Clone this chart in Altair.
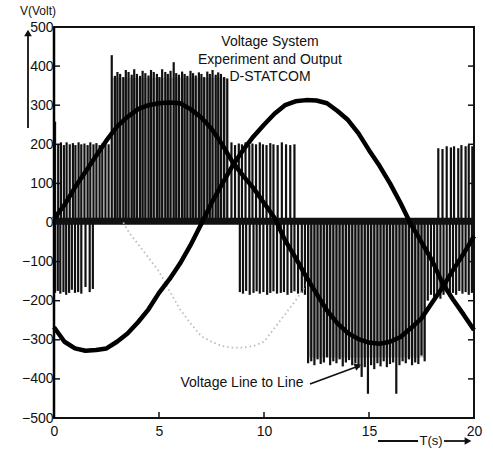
import altair as alt
import pandas as pd

FONT = "Liberation Sans"

T = [0, 0.5, 1, 1.5, 2, 2.5, 3, 3.5, 4, 4.5, 5, 5.5, 6, 6.5, 7, 7.5, 8, 8.5, 9, 9.5,
     10, 10.5, 11, 11.5, 12, 12.5, 13, 13.5, 14, 14.5, 15, 15.5, 16, 16.5, 17, 17.5,
     18, 18.5, 19, 19.5, 20]
curve_a = [10, 45, 90, 130, 170, 210, 245, 270, 290, 300, 305, 307, 305, 290, 269, 240,
           200, 155, 120, 88, 50, 12, -45, -90, -138, -182, -225, -258, -283, -298, -307,
           -310, -305, -293, -270, -245, -205, -166, -122, -80, -35]
curve_b = [-268, -305, -322, -328, -326, -322, -305, -284, -255, -222, -180, -145, -105,
           -58, -5, 50, 98, 145, 185, 220, 250, 278, 300, 310, 313, 312, 305, 285, 262,
           228, 185, 145, 100, 50, -5, -50, -97, -155, -197, -235, -275]
gray_t = [3.3, 3.6, 4.0, 4.5, 5.0, 5.5, 6.0, 6.5, 7.0, 7.5, 8.0, 8.5, 9.0, 9.5, 10.0,
          10.5, 11.0, 11.5, 12.0]
gray_v = [0, -28, -55, -90, -125, -175, -222, -258, -290, -305, -316, -320, -320, -316,
          -305, -270, -235, -200, -160]

# ---- PWM pulses (time, peak) ----
p1_t = [0.05, 0.2, 0.33, 0.47, 0.6, 0.75, 0.9, 1.02, 1.17, 1.3, 1.45, 1.6, 1.73, 1.88,
        2.02, 2.17, 2.3, 2.45, 2.6]
p1_v = [258, 200, 205, 198, 205, 200, 203, 198, 205, 200, 202, 198, 205, 200, 203, 198,
        202, 205, 200]
p2_t = [2.75, 2.9, 3.02, 3.15, 3.3, 3.42, 3.55, 3.7, 3.82, 3.95, 4.1, 4.22, 4.35, 4.5,
        4.62, 4.75, 4.9, 5.02, 5.15, 5.3, 5.42, 5.55, 5.7, 5.82, 5.95, 6.1, 6.22, 6.35,
        6.5, 6.62, 6.75, 6.9, 7.02, 7.15, 7.3, 7.42, 7.55, 7.7, 7.82, 7.95, 8.1, 8.25]
p2_v = [428, 375, 385, 380, 372, 390, 385, 378, 392, 380, 375, 388, 382, 376, 390, 385,
        380, 372, 392, 385, 380, 388, 410, 382, 378, 386, 380, 375, 388, 382, 376, 384,
        380, 372, 386, 380, 390, 378, 384, 380, 372, 368]
p3_t = [8.45, 8.62, 8.8, 8.95, 9.12, 9.3, 9.45, 9.62, 9.8, 9.95, 10.12, 10.3, 10.45,
        10.65, 10.85, 11.05, 11.25, 11.45]
p3_v = [205, 198, 202, 200, 205, 198, 202, 200, 205, 200, 198, 203, 200, 198, 205, 200,
        198, 200]
p4_t = [18.3, 18.5, 18.7, 18.9, 19.05, 19.25, 19.4, 19.6, 19.75, 19.92]
p4_v = [190, 188, 195, 192, 195, 190, 198, 195, 198, 195]
n1_t = [0.05, 0.18, 0.3, 0.45, 0.58, 0.72, 0.85, 1.0, 1.15, 1.3, 1.5, 1.7, 1.85]
n1_v = [-180, -175, -182, -178, -185, -180, -172, -180, -178, -182, -165, -178, -170]
n2_t = [8.85, 9.0, 9.15, 9.32, 9.5, 9.65, 9.8, 9.97, 10.15, 10.3, 10.45, 10.62, 10.8,
        10.95, 11.12, 11.3, 11.45, 11.62, 11.8, 11.95]
n2_v = [-178, -182, -175, -185, -180, -176, -182, -178, -185, -180, -176, -182, -180,
        -178, -185, -180, -176, -182, -180, -185]
n3_t = [12.1, 12.25, 12.4, 12.55, 12.7, 12.85, 13.0, 13.15, 13.3, 13.45, 13.6, 13.75,
        13.9, 14.05, 14.2, 14.35, 14.5, 14.65, 14.8, 14.95, 15.1, 15.25, 15.4, 15.55,
        15.7, 15.85, 16.0, 16.15, 16.3, 16.45, 16.6, 16.75, 16.9, 17.05, 17.2, 17.35,
        17.5, 17.65]
n3_v = [-360, -355, -365, -350, -362, -358, -345, -365, -355, -360, -350, -368, -358,
        -352, -365, -360, -372, -395, -370, -438, -365, -375, -360, -368, -355, -370,
        -362, -358, -438, -365, -355, -360, -350, -365, -358, -362, -340, -355]
n4_t = [17.8, 17.95, 18.1, 18.25, 18.4, 18.55, 18.7, 18.85, 19.0, 19.15, 19.3, 19.45,
        19.6, 19.75, 19.9]
n4_v = [-200, -185, -190, -180, -195, -185, -178, -190, -180, -185, -175, -182, -178,
        -185, -180]

# gray hatching behind dense pulse groups
shade_t = [2.75, 12.1]
shade_t2 = [8.3, 17.7]
shade_v = [370, -345]

y_ticks = [-400, -300, -200, -100, 0, 100, 200, 300, 400]
x_ticks = [5, 10, 15]
x_labels = [0, 5, 10, 15, 20]
y_labels = [-500, -400, -300, -200, -100, 0, 100, 200, 300, 400, 500]
title_lines = ["Voltage System", "Experiment and Output", "D-STATCOM"]

# ---- tables ----
pulse_t = p1_t + p2_t + p3_t + p4_t + n1_t + n2_t + n3_t + n4_t
pulse_v = p1_v + p2_v + p3_v + p4_v + n1_v + n2_v + n3_v + n4_v
pulses = pd.DataFrame({"t": pulse_t, "v": pulse_v, "z": [0] * len(pulse_t)})
curves = pd.DataFrame({"t": T + T, "v": curve_a + curve_b,
                       "s": ["a"] * len(T) + ["b"] * len(T)})
gray = pd.DataFrame({"t": gray_t, "v": gray_v})
shade = pd.DataFrame({"t": shade_t, "t2": shade_t2, "v": shade_v, "z": [0, 0]})

xs = alt.Scale(domain=[0, 20], nice=False)
ys = alt.Scale(domain=[-500, 500], nice=False)

axis_x = alt.Axis(values=x_labels, tickSize=0, domain=False, grid=False,
                  labelFontSize=14, labelFont=FONT, labelColor="#111", labelPadding=6,
                  labelFlush=False, title=None)
axis_y = alt.Axis(values=y_labels, tickSize=0, domain=False, grid=False,
                  labelFontSize=14, labelFont=FONT, labelColor="#111", labelPadding=1,
                  title=None)

X = alt.X("t:Q", scale=xs, axis=axis_x)
Y = alt.Y("v:Q", scale=ys, axis=axis_y)

shade_layer = alt.Chart(shade).mark_rect(color="#9a9a9a", opacity=0.55).encode(
    x=X, x2="t2:Q", y=Y, y2="z:Q")

pulse_layer = alt.Chart(pulses).mark_rule(color="#111", strokeWidth=2.2).encode(
    x=X, y=Y, y2="z:Q")

band = alt.Chart(pd.DataFrame({"t": [0], "t2": [20], "v": [-6], "v2": [12]})).mark_rect(
    color="#111", opacity=1).encode(x=X, x2="t2:Q", y=Y, y2="v2:Q")

gray_layer = alt.Chart(gray).mark_line(color="#bbb", strokeWidth=1.8,
                                       strokeDash=[1.5, 3]).encode(x=X, y=Y)

curve_layer = alt.Chart(curves).mark_line(color="#000", strokeWidth=4.5,
                                          strokeJoin="round").encode(
    x=X, y=Y, detail="s:N")

# inner ticks
yt = pd.DataFrame({"v": y_ticks})
left_ticks = alt.Chart(yt).mark_rule(color="#111", strokeWidth=1.5).encode(
    x=alt.value(0), x2=alt.value(6), y=Y)
right_ticks = alt.Chart(yt).mark_rule(color="#111", strokeWidth=1.5).encode(
    x=alt.value(414), x2=alt.value(420), y=Y)
xt = pd.DataFrame({"t": x_ticks})
bottom_ticks = alt.Chart(xt).mark_rule(color="#111", strokeWidth=1.5).encode(
    x=X, y=alt.value(385), y2=alt.value(391))
left_edge = alt.Chart(pd.DataFrame({"a": [0]})).mark_rule(
    color="#000", strokeWidth=2.5).encode(x=alt.value(0), y=alt.value(0),
                                          y2=alt.value(391))

# title text
titles = pd.DataFrame({"txt": title_lines, "py": [15, 33, 50]})
title_layer = alt.Chart(titles).mark_text(font=FONT, fontSize=14, color="#111",
                                          align="center", baseline="middle").encode(
    x=alt.value(216), y=alt.Y("py:Q", scale=None), text="txt:N")

# annotation
ann = alt.Chart(pd.DataFrame({"txt": ["Voltage Line to Line"]})).mark_text(
    font=FONT, fontSize=14, color="#111", align="center", baseline="middle").encode(
    x=alt.value(188), y=alt.value(356), text="txt:N")
ann_line = alt.Chart(pd.DataFrame({"a": [0]})).mark_rule(
    color="#111", strokeWidth=1.8).encode(x=alt.value(256), x2=alt.value(302),
                                          y=alt.value(357), y2=alt.value(340))
ann_head = alt.Chart(pd.DataFrame({"a": [0]})).mark_point(
    shape="triangle-up", filled=True, color="#111", size=60, angle=69, opacity=1).encode(
    x=alt.value(304), y=alt.value(339))

# V(Volt) label with up arrow
v_label = alt.Chart(pd.DataFrame({"txt": ["V(Volt)"]})).mark_text(
    font=FONT, fontSize=12, color="#111", align="center", baseline="middle").encode(
    x=alt.value(-16), y=alt.value(-16), text="txt:N")
v_line = alt.Chart(pd.DataFrame({"a": [0]})).mark_rule(
    color="#111", strokeWidth=1.8).encode(x=alt.value(-26), y=alt.value(8),
                                          y2=alt.value(101))
v_head = alt.Chart(pd.DataFrame({"a": [0]})).mark_point(
    shape="triangle-up", filled=True, color="#111", size=60, opacity=1).encode(
    x=alt.value(-26), y=alt.value(6))

# T(s) label with right arrow
t_label = alt.Chart(pd.DataFrame({"txt": ["T(s)"]})).mark_text(
    font=FONT, fontSize=13, color="#111", align="center", baseline="middle").encode(
    x=alt.value(377), y=alt.value(414), text="txt:N")
t_line1 = alt.Chart(pd.DataFrame({"a": [0]})).mark_rule(
    color="#111", strokeWidth=1.8).encode(x=alt.value(324), x2=alt.value(364),
                                          y=alt.value(414))
t_line2 = alt.Chart(pd.DataFrame({"a": [0]})).mark_rule(
    color="#111", strokeWidth=1.8).encode(x=alt.value(390), x2=alt.value(412),
                                          y=alt.value(414))
t_head = alt.Chart(pd.DataFrame({"a": [0]})).mark_point(
    shape="triangle-right", filled=True, color="#111", size=60, opacity=1).encode(
    x=alt.value(414), y=alt.value(414))

chart = alt.layer(
    shade_layer, pulse_layer, band, gray_layer, curve_layer,
    left_ticks, right_ticks, bottom_ticks, left_edge, title_layer,
    ann, ann_line, ann_head, v_label, v_line, v_head,
    t_label, t_line1, t_line2, t_head,
).properties(
    width=420, height=391,
    autosize=alt.AutoSizeParams(type="none"),
    padding={"left": 54, "top": 27, "right": 19, "bottom": 33},
    background="white",
).configure_view(stroke="#111", strokeWidth=2)

chart.save("out.html", embed_options={"renderer": "svg", "actions": False})
